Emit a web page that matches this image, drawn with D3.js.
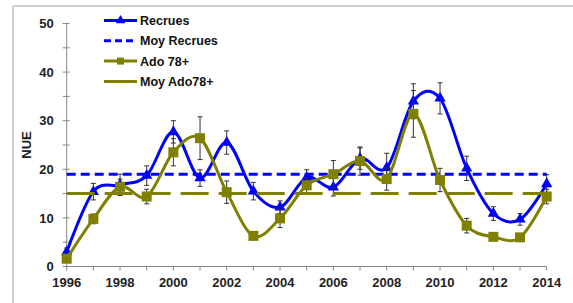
<!DOCTYPE html>
<html>
<head>
<meta charset="utf-8">
<script src="https://cdn.jsdelivr.net/npm/d3@7"></script>
<style>
  body { margin: 0; background: #fff; }
  svg { display: block; font-family: "Liberation Sans", Arial, sans-serif; }
</style>
</head>
<body>
<svg id="chart" width="573" height="303"></svg>
<script>
// data
const years = [1996, 1997, 1998, 1999, 2000, 2001, 2002, 2003, 2004, 2005, 2006, 2007, 2008, 2009, 2010, 2011, 2012, 2013, 2014];
const recrues = [3.0, 15.4, 16.8, 18.7, 27.7, 18.2, 25.5, 15.5, 12.2, 18.3, 16.3, 22.2, 20.3, 34.0, 34.6, 20.2, 10.9, 9.7, 17.0];
const recruesErr = [0.8, 1.7, 2.2, 2.0, 2.3, 1.7, 2.4, 1.8, 1.3, 1.6, 1.8, 2.2, 3.0, 3.6, 3.2, 2.5, 1.4, 1.2, 1.9];
const ado = [1.6, 9.8, 16.4, 14.4, 23.5, 26.4, 15.3, 6.3, 9.9, 16.7, 19.0, 21.7, 18.0, 31.4, 17.8, 8.4, 6.1, 6.0, 14.4];
const adoErr = [0.5, 1.0, 1.6, 1.5, 2.8, 4.4, 2.3, 0.6, 1.9, 1.5, 2.8, 2.9, 2.3, 4.8, 2.4, 1.5, 0.5, 0.5, 1.5];
const moyRecrues = 19;
const moyAdo = 15;
const yTicks = [0, 10, 20, 30, 40, 50];
const xLabels = [1996, 1998, 2000, 2002, 2004, 2006, 2008, 2010, 2012, 2014];

const BLUE = '#0000ff';
const OLIVE = '#808000';

const svg = d3.select('#chart');

// frame (top + left edge only)
svg.append('line').attr('x1', 13).attr('x2', 573).attr('y1', 6).attr('y2', 6)
    .attr('stroke', '#cfcfcf').attr('stroke-width', 2);
svg.append('line').attr('x1', 13).attr('x2', 13).attr('y1', 6).attr('y2', 303)
    .attr('stroke', '#cfcfcf').attr('stroke-width', 2);

const x = d3.scaleLinear().domain([1996, 2014]).range([66.7, 546.7]);
const y = d3.scaleLinear().domain([0, 50]).range([266.5, 23.5]);

// axes
const yAxis = svg.append('g').attr('transform', 'translate(66.7,0)');
yAxis.append('line').attr('y1', y(0)).attr('y2', y(50)).attr('stroke', '#888');
yAxis.selectAll('.tk').data(d3.range(0, 51, 5)).enter().append('line')
    .attr('x1', -4).attr('x2', 3).attr('y1', d => y(d)).attr('y2', d => y(d))
    .attr('stroke', '#888');
yAxis.selectAll('text').data(yTicks).enter().append('text')
    .attr('x', -13).attr('y', d => y(d)).attr('dy', '0.36em')
    .attr('text-anchor', 'end').attr('font-size', 13).attr('font-weight', 'bold')
    .attr('fill', '#222').text(d => d);

const xAxis = svg.append('g').attr('transform', `translate(0,${y(0)})`);
xAxis.append('line').attr('x1', x(1996)).attr('x2', x(2014)).attr('stroke', '#888');
xAxis.selectAll('.tk').data(years).enter().append('line')
    .attr('x1', d => x(d)).attr('x2', d => x(d)).attr('y1', 0).attr('y2', 4)
    .attr('stroke', '#888');
xAxis.selectAll('text').data(xLabels).enter().append('text')
    .attr('x', d => x(d)).attr('y', 20)
    .attr('text-anchor', 'middle').attr('font-size', 13).attr('font-weight', 'bold')
    .attr('fill', '#222').text(d => d);

svg.append('text').attr('transform', 'translate(31,145) rotate(-90)')
    .attr('text-anchor', 'middle').attr('font-size', 13).attr('font-weight', 'bold')
    .attr('fill', '#222').text('NUE');

const line = d3.line().x((d, i) => x(years[i])).y(d => y(d))
    .curve(d3.curveCardinal.tension(0));

function errorBars(vals, errs) {
    const g = svg.append('g').attr('stroke', '#333').attr('stroke-width', 1);
    vals.forEach((v, i) => {
        const cx = x(years[i]);
        const top = y(v + errs[i]), bot = y(v - errs[i]);
        g.append('line').attr('x1', cx).attr('x2', cx).attr('y1', top).attr('y2', bot);
        g.append('line').attr('x1', cx - 2.5).attr('x2', cx + 2.5).attr('y1', top).attr('y2', top);
        g.append('line').attr('x1', cx - 2.5).attr('x2', cx + 2.5).attr('y1', bot).attr('y2', bot);
    });
}

// Recrues
errorBars(recrues, recruesErr);
svg.append('path').datum(recrues).attr('d', line)
    .attr('fill', 'none').attr('stroke', BLUE).attr('stroke-width', 3);
svg.append('g').selectAll('path').data(recrues).enter().append('path')
    .attr('d', d3.symbol().type(d3.symbolTriangle).size(55))
    .attr('transform', (d, i) => `translate(${x(years[i])},${y(d)})`)
    .attr('fill', BLUE);

// Moy Recrues
svg.append('line').attr('x1', x(1996)).attr('x2', x(2014))
    .attr('y1', y(moyRecrues)).attr('y2', y(moyRecrues))
    .attr('stroke', BLUE).attr('stroke-width', 3).attr('stroke-dasharray', '9,5');

// Ado 78+
errorBars(ado, adoErr);
svg.append('path').datum(ado).attr('d', line)
    .attr('fill', 'none').attr('stroke', OLIVE).attr('stroke-width', 3);
svg.append('g').selectAll('rect').data(ado).enter().append('rect')
    .attr('x', (d, i) => x(years[i]) - 5).attr('y', d => y(d) - 5)
    .attr('width', 10).attr('height', 10).attr('fill', OLIVE);

// Moy Ado78+
svg.append('line').attr('x1', x(1996)).attr('x2', x(2014))
    .attr('y1', y(moyAdo)).attr('y2', y(moyAdo))
    .attr('stroke', OLIVE).attr('stroke-width', 3).attr('stroke-dasharray', '28,10');

// legend
const legendItems = [
    { name: 'Recrues', color: BLUE, dash: null, marker: 'tri' },
    { name: 'Moy Recrues', color: BLUE, dash: '7,4', marker: null },
    { name: 'Ado 78+', color: OLIVE, dash: null, marker: 'sq' },
    { name: 'Moy Ado78+', color: OLIVE, dash: null, marker: null }
];
const legend = svg.append('g');
legendItems.forEach((it, i) => {
    const ly = 20.5 + i * 20.3;
    legend.append('line').attr('x1', 104).attr('x2', 137).attr('y1', ly).attr('y2', ly)
        .attr('stroke', it.color).attr('stroke-width', 3)
        .attr('stroke-dasharray', it.dash);
    if (it.marker === 'tri') {
        legend.append('path').attr('d', d3.symbol().type(d3.symbolTriangle).size(40))
            .attr('transform', `translate(120.5,${ly})`).attr('fill', it.color);
    } else if (it.marker === 'sq') {
        legend.append('rect').attr('x', 117).attr('y', ly - 3.5).attr('width', 7).attr('height', 7)
            .attr('fill', it.color);
    }
    legend.append('text').attr('x', 140).attr('y', ly).attr('dy', '0.36em')
        .attr('font-size', 12.5).attr('font-weight', 'bold').attr('fill', '#111')
        .text(it.name);
});
</script>
</body>
</html>
